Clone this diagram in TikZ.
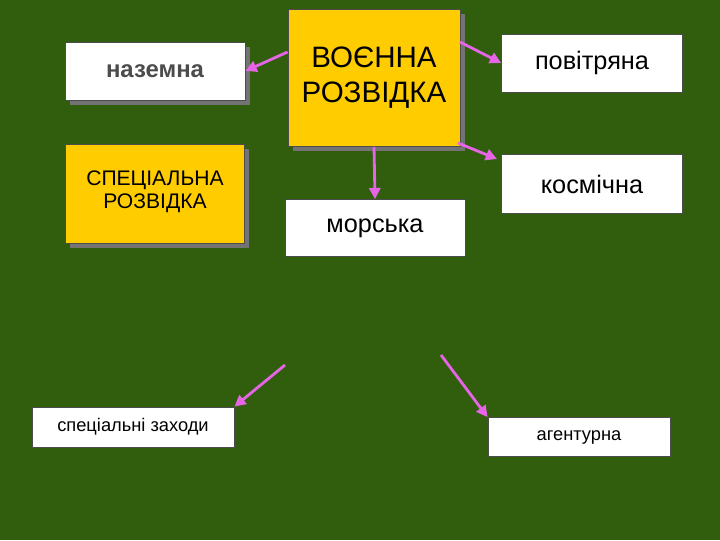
\documentclass[tikz,border=0pt]{standalone}
\usepackage{fontspec}
\setmainfont{Liberation Sans}
\usetikzlibrary{arrows.meta,shadows}
\definecolor{bg}{RGB}{48,94,12}
\definecolor{gold}{RGB}{255,204,0}
\definecolor{pinkarr}{RGB}{230,100,230}
\begin{document}
\begin{tikzpicture}[x=0.025cm,y=-0.025cm,
 box/.style={draw=black!70,line width=0.6pt,fill=white,inner sep=0pt,align=center},
 shbox/.style={box,drop shadow={shadow xshift=1.2mm,shadow yshift=-1.2mm,fill=black!55,opacity=1}},
 arr/.style={draw=pinkarr,line width=2pt,-{Triangle[length=8pt,width=8pt]}}]
\fill[bg] (0,0) rectangle (720,540);
\node[shbox,minimum width=4.5cm,minimum height=1.45cm,text=black!70,font=\fontsize{17}{20}\selectfont\bfseries] (naz) at (155,71) {\raisebox{-1mm}{наземна}};
\node[shbox,fill=gold,minimum width=4.3cm,minimum height=3.42cm,font=\fontsize{21}{25}\selectfont] (voen) at (374,78) {ВОЄННА\\РОЗВІДКА};
\node[box,minimum width=4.52cm,minimum height=1.45cm,font=\fontsize{18}{21}\selectfont] (pov) at (592,63) {\raisebox{-1mm}{повітряна}};
\node[shbox,fill=gold,minimum width=4.48cm,minimum height=2.48cm,font=\fontsize{15}{18}\selectfont] (spec) at (155,194) {\raisebox{2mm}{\shortstack{СПЕЦІАЛЬНА\\РОЗВІДКА}}};
\node[box,minimum width=4.52cm,minimum height=1.47cm,font=\fontsize{18}{21}\selectfont] (kosm) at (592,184) {космічна};
\node[box,minimum width=4.5cm,minimum height=1.42cm,font=\fontsize{18}{21}\selectfont] (mor) at (375,228) {\raisebox{-1.5mm}{морська}};
\node[box,minimum width=5.05cm,minimum height=1cm,font=\fontsize{13}{16}\selectfont] (zah) at (133,427) {\raisebox{-1mm}{спеціальні заходи}};
\node[box,minimum width=4.55cm,minimum height=0.97cm,font=\fontsize{13}{16}\selectfont] (ag) at (579,437) {\raisebox{-1mm}{агентурна}};
\coordinate (l1) at (285,365);
\coordinate (l2) at (441,355);
\draw[arr] (voen.west) ++(0,-26) -- (naz.east);
\draw[arr] (460,42) -- (pov.west);
\draw[arr] (voen.south) -- (mor.north);
\draw[arr] (458,143) -- (497,159);
\draw[arr] (l1) -- (zah.north east);
\draw[arr] (l2) -- (ag.north west);
\end{tikzpicture}
\end{document}
